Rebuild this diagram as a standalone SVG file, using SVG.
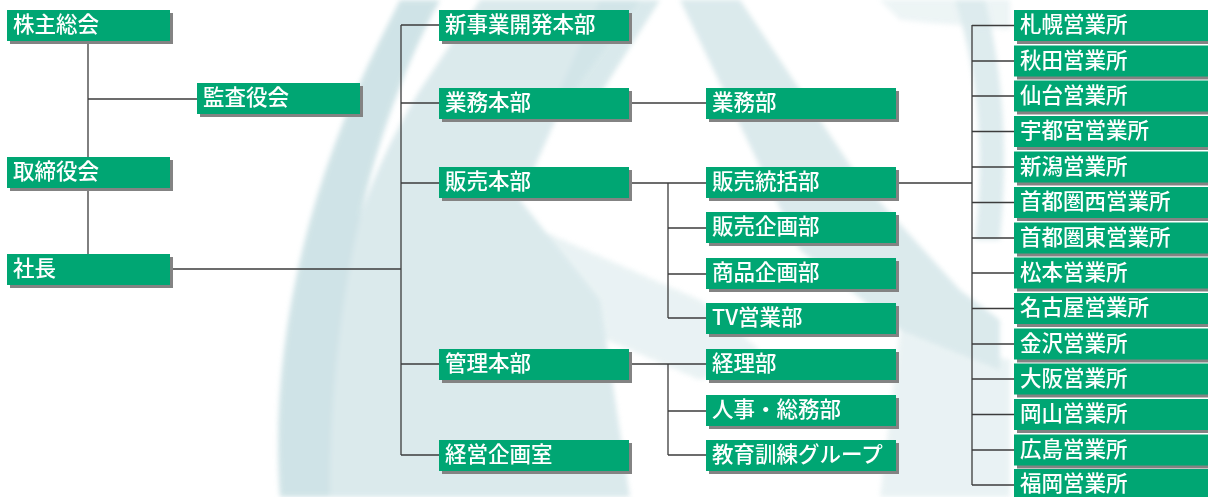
<svg xmlns="http://www.w3.org/2000/svg" width="1208" height="497" viewBox="0 0 1208 497">
<defs>
<style>
.bx{fill:#00a673}
.sh{fill:#838383}
.t{font-family:"Noto Sans CJK JP","Noto Sans",sans-serif;font-size:21.5px;font-weight:500;fill:#ffffff}
.ln{stroke:#3c3c3c;stroke-width:1.3;fill:none}
.wm{fill:#c4dde1}
.ws{fill:url(#stripes)}
</style>
<pattern id="stripes" width="8" height="5" patternUnits="userSpaceOnUse">
<rect width="8" height="5" fill="#c8dfe3"/>
<rect y="3.4" width="8" height="1.3" fill="#eef5f6"/>
</pattern>
<filter id="soft" x="-5%" y="-5%" width="110%" height="110%">
<feGaussianBlur stdDeviation="2.5"/>
</filter>
</defs>
<rect width="1208" height="497" fill="#ffffff"/>
<g id="watermark" opacity="0.8" filter="url(#soft)">
<path class="ws" d="M330,497 C315,360 340,220 420,90 C440,60 460,30 480,0 L640,0 L560,110 L520,200 L600,300 L630,497 Z"/>
<path class="wm" d="M280,497 C270,360 300,200 380,40 L400,0 L440,0 C370,130 330,300 330,497 Z"/>
<path class="wm" d="M600,0 L660,0 L590,110 L560,90 Z" opacity="0.8"/>
<path class="ws" d="M680,0 L740,0 L860,180 L960,290 L1000,320 L1000,370 L900,330 L800,250 Z"/>
<path class="ws" d="M540,230 L700,300 L760,350 L700,380 L560,320 Z" opacity="0.6"/>
<path class="wm" d="M955,0 L985,0 C1005,80 1008,160 1000,240 L975,240 C985,160 980,80 955,0 Z" opacity="0.7"/>
<path class="ws" d="M900,330 L1010,360 L1010,497 L880,497 Z" opacity="0.6"/>
<path class="ws" d="M880,0 L1010,0 L1010,30 L900,20 Z" opacity="0.5"/>
</g>
<g id="connectors" class="ln">
<path class="ln" d="M88,41V157M88,188V254M88,99H197"/>
<path class="ln" d="M170,269H401M401,25V455M401,25H439M401,103H439M401,183H439M401,364H439M401,455H439"/>
<path class="ln" d="M629,103H706"/>
<path class="ln" d="M629,183H706M668,183V318M668,228H706M668,274H706M668,318H706"/>
<path class="ln" d="M629,364H706M668,364V455M668,411H706M668,455H706"/>
<path class="ln" d="M896,183H972M972,25V485"/>
<path class="ln" d="M972,25.5H1014M972,61H1014M972,96H1014M972,131.5H1014M972,167H1014M972,202.5H1014M972,238H1014M972,273H1014M972,308.5H1014M972,344H1014M972,379H1014M972,414.5H1014M972,450H1014M972,485H1014"/>
</g>
<g id="n_kabunushi"><rect class="sh" x="10" y="13" width="163" height="31"/><rect class="bx" x="7" y="10" width="163" height="31"/><text class="t" x="13" y="32">株主総会</text></g>
<g id="n_kansa"><rect class="sh" x="200" y="86" width="163" height="31"/><rect class="bx" x="197" y="83" width="163" height="31"/><text class="t" x="203" y="105">監査役会</text></g>
<g id="n_torishimari"><rect class="sh" x="10" y="160" width="163" height="31"/><rect class="bx" x="7" y="157" width="163" height="31"/><text class="t" x="13" y="179">取締役会</text></g>
<g id="n_shacho"><rect class="sh" x="10" y="257" width="163" height="31"/><rect class="bx" x="7" y="254" width="163" height="31"/><text class="t" x="13" y="276">社長</text></g>

<g id="n_shinjigyo"><rect class="sh" x="442" y="13" width="190" height="31"/><rect class="bx" x="439" y="10" width="190" height="31"/><text class="t" x="445" y="32">新事業開発本部</text></g>
<g id="n_gyomuhonbu"><rect class="sh" x="442" y="91" width="190" height="31"/><rect class="bx" x="439" y="88" width="190" height="31"/><text class="t" x="445" y="110">業務本部</text></g>
<g id="n_hanbaihonbu"><rect class="sh" x="442" y="170" width="190" height="31"/><rect class="bx" x="439" y="167" width="190" height="31"/><text class="t" x="445" y="189">販売本部</text></g>
<g id="n_kanrihonbu"><rect class="sh" x="442" y="352" width="190" height="31"/><rect class="bx" x="439" y="349" width="190" height="31"/><text class="t" x="445" y="371">管理本部</text></g>
<g id="n_keiei"><rect class="sh" x="442" y="443" width="190" height="31"/><rect class="bx" x="439" y="440" width="190" height="31"/><text class="t" x="445" y="462">経営企画室</text></g>

<g id="n_gyomubu"><rect class="sh" x="709" y="91" width="190" height="31"/><rect class="bx" x="706" y="88" width="190" height="31"/><text class="t" x="712" y="110">業務部</text></g>
<g id="n_hanbaitokatsu"><rect class="sh" x="709" y="170" width="190" height="31"/><rect class="bx" x="706" y="167" width="190" height="31"/><text class="t" x="712" y="189">販売統括部</text></g>
<g id="n_hanbaikikaku"><rect class="sh" x="709" y="215" width="190" height="31"/><rect class="bx" x="706" y="212" width="190" height="31"/><text class="t" x="712" y="234">販売企画部</text></g>
<g id="n_shohinkikaku"><rect class="sh" x="709" y="261" width="190" height="31"/><rect class="bx" x="706" y="258" width="190" height="31"/><text class="t" x="712" y="280">商品企画部</text></g>
<g id="n_tv"><rect class="sh" x="709" y="306" width="190" height="31"/><rect class="bx" x="706" y="303" width="190" height="31"/><text class="t" x="712" y="325">TV営業部</text></g>
<g id="n_keiri"><rect class="sh" x="709" y="352" width="190" height="31"/><rect class="bx" x="706" y="349" width="190" height="31"/><text class="t" x="712" y="371">経理部</text></g>
<g id="n_jinji"><rect class="sh" x="709" y="398" width="190" height="31"/><rect class="bx" x="706" y="395" width="190" height="31"/><text class="t" x="712" y="417">人事・総務部</text></g>
<g id="n_kyoiku"><rect class="sh" x="709" y="443" width="190" height="31"/><rect class="bx" x="706" y="440" width="190" height="31"/><text class="t" x="712" y="462">教育訓練グループ</text></g>

<g id="n_sapporo"><rect class="sh" x="1017" y="13" width="200" height="31"/><rect class="bx" x="1014" y="10" width="200" height="31"/><text class="t" x="1020" y="32">札幌営業所</text></g>
<g id="n_akita"><rect class="sh" x="1017" y="48.5" width="200" height="31"/><rect class="bx" x="1014" y="45.5" width="200" height="31"/><text class="t" x="1020" y="67.5">秋田営業所</text></g>
<g id="n_sendai"><rect class="sh" x="1017" y="83.5" width="200" height="31"/><rect class="bx" x="1014" y="80.5" width="200" height="31"/><text class="t" x="1020" y="102.5">仙台営業所</text></g>
<g id="n_utsunomiya"><rect class="sh" x="1017" y="119" width="200" height="31"/><rect class="bx" x="1014" y="116" width="200" height="31"/><text class="t" x="1020" y="138">宇都宮営業所</text></g>
<g id="n_niigata"><rect class="sh" x="1017" y="154.5" width="200" height="31"/><rect class="bx" x="1014" y="151.5" width="200" height="31"/><text class="t" x="1020" y="173.5">新潟営業所</text></g>
<g id="n_shutoken_nishi"><rect class="sh" x="1017" y="190" width="200" height="31"/><rect class="bx" x="1014" y="187" width="200" height="31"/><text class="t" x="1020" y="209">首都圏西営業所</text></g>
<g id="n_shutoken_higashi"><rect class="sh" x="1017" y="225.5" width="200" height="31"/><rect class="bx" x="1014" y="222.5" width="200" height="31"/><text class="t" x="1020" y="244.5">首都圏東営業所</text></g>
<g id="n_matsumoto"><rect class="sh" x="1017" y="260.5" width="200" height="31"/><rect class="bx" x="1014" y="257.5" width="200" height="31"/><text class="t" x="1020" y="279.5">松本営業所</text></g>
<g id="n_nagoya"><rect class="sh" x="1017" y="296" width="200" height="31"/><rect class="bx" x="1014" y="293" width="200" height="31"/><text class="t" x="1020" y="315">名古屋営業所</text></g>
<g id="n_kanazawa"><rect class="sh" x="1017" y="331.5" width="200" height="31"/><rect class="bx" x="1014" y="328.5" width="200" height="31"/><text class="t" x="1020" y="350.5">金沢営業所</text></g>
<g id="n_osaka"><rect class="sh" x="1017" y="366.5" width="200" height="31"/><rect class="bx" x="1014" y="363.5" width="200" height="31"/><text class="t" x="1020" y="385.5">大阪営業所</text></g>
<g id="n_okayama"><rect class="sh" x="1017" y="402" width="200" height="31"/><rect class="bx" x="1014" y="399" width="200" height="31"/><text class="t" x="1020" y="421">岡山営業所</text></g>
<g id="n_hiroshima"><rect class="sh" x="1017" y="437.5" width="200" height="31"/><rect class="bx" x="1014" y="434.5" width="200" height="31"/><text class="t" x="1020" y="456.5">広島営業所</text></g>
<g id="n_fukuoka"><rect class="sh" x="1017" y="472" width="200" height="31"/><rect class="bx" x="1014" y="469" width="200" height="31"/><text class="t" x="1020" y="491">福岡営業所</text></g>
</svg>
